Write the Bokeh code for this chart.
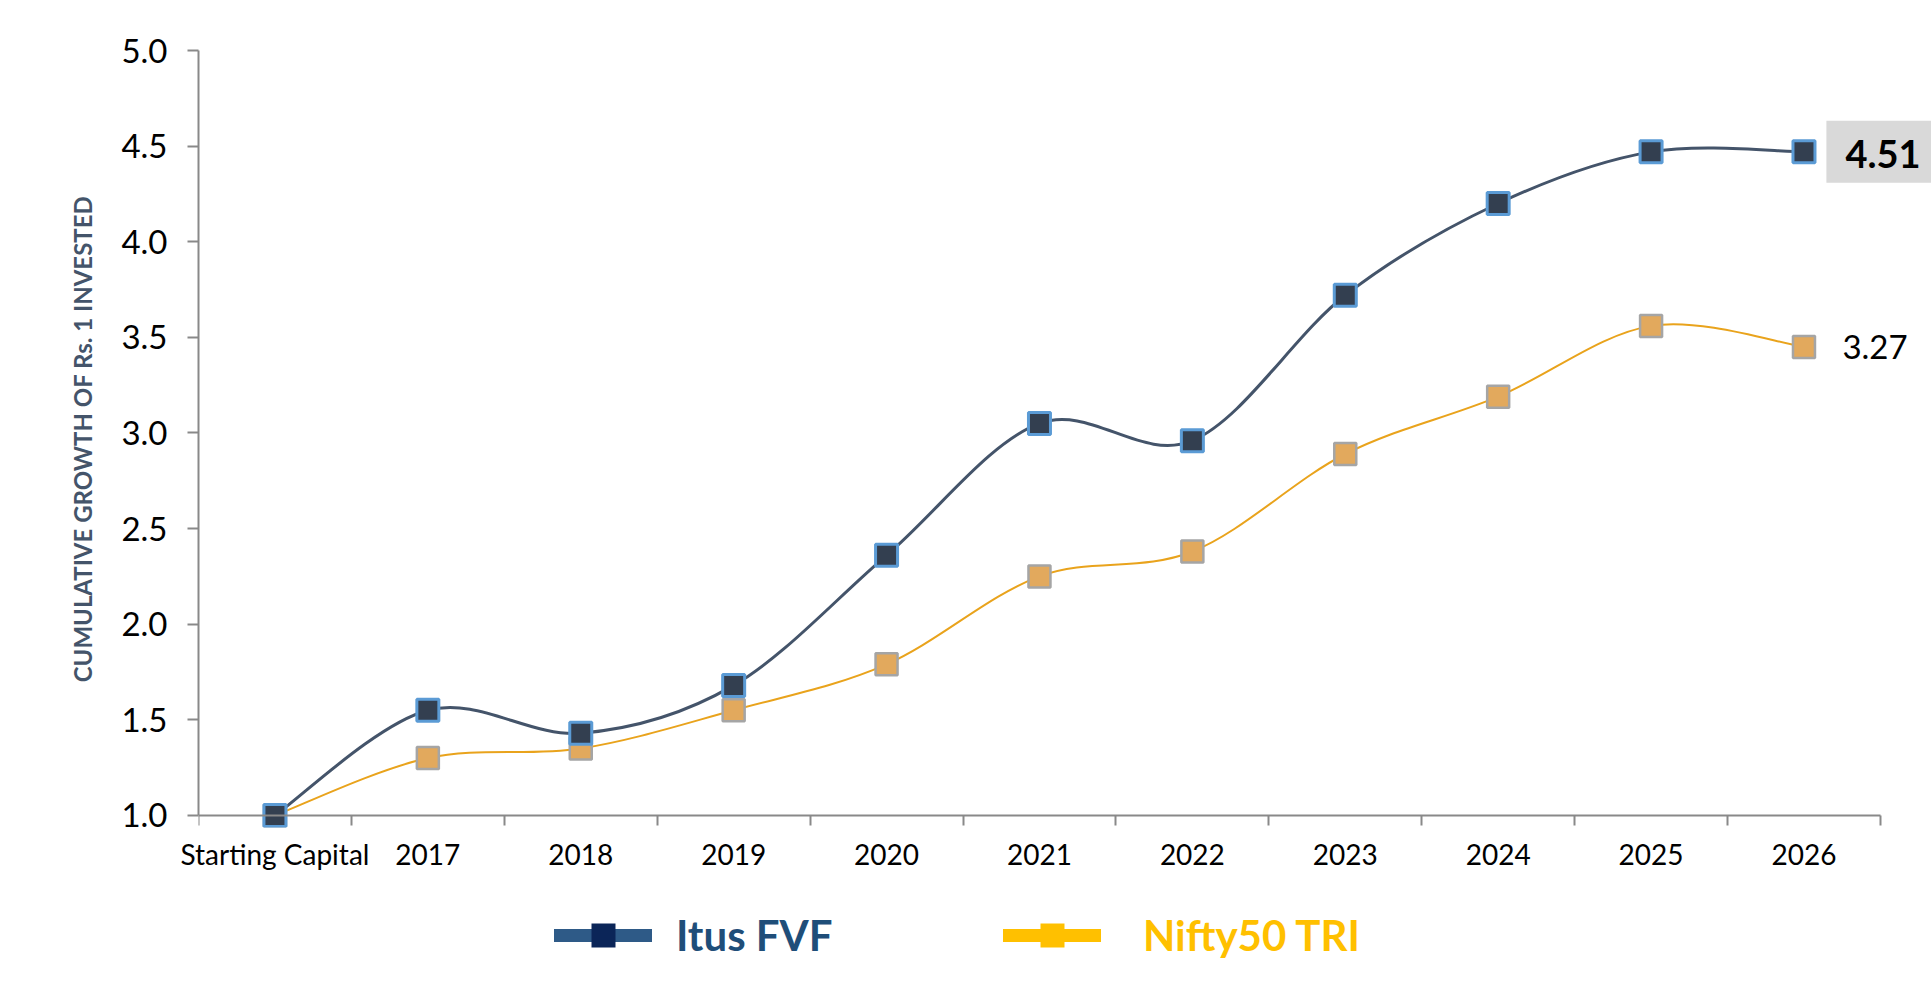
from bokeh.plotting import figure
from bokeh.layouts import column
from bokeh.models import (Range1d, FixedTicker, PrintfTickFormatter, Label, Legend,
                          LegendItem, CustomJSTickFormatter, LinearAxis)
from bokeh.embed import file_html
from bokeh.resources import INLINE

# ---------------- data ----------------
categories = ["Starting Capital", "2017", "2018", "2019", "2020", "2021",
              "2022", "2023", "2024", "2025", "2026"]
itus_fvf = [1.00, 1.55, 1.43, 1.68, 2.36, 3.05, 2.96, 3.72, 4.20, 4.47, 4.47]
nifty50_tri = [1.00, 1.30, 1.35, 1.55, 1.79, 2.25, 2.38, 2.89, 3.19, 3.56, 3.45]
series_names = ["Itus FVF", "Nifty50 TRI"]
end_labels = ["4.51", "3.27"]
y_ticks = [1.0, 1.5, 2.0, 2.5, 3.0, 3.5, 4.0, 4.5, 5.0]
y_title = "CUMULATIVE GROWTH OF Rs. 1 INVESTED"

FONT = "Lato"
AXIS_COLOR = "#898989"
NAN = float("nan")

n_cat = len(categories)
xs = [i + 0.5 for i in range(n_cat)]


def smooth_segments(x, y):
    """Bezier control points for a smoothed line through the data points."""
    n = len(x)
    x0, y0, x1, y1, cx0, cy0, cx1, cy1 = [], [], [], [], [], [], [], []
    for i in range(n - 1):
        ip = max(i - 1, 0)
        inn = min(i + 2, n - 1)
        x0.append(x[i]); y0.append(y[i])
        x1.append(x[i + 1]); y1.append(y[i + 1])
        cx0.append(x[i] + (x[i + 1] - x[ip]) / 6.0)
        cy0.append(y[i] + (y[i + 1] - y[ip]) / 6.0)
        cx1.append(x[i + 1] - (x[inn] - x[i]) / 6.0)
        cy1.append(y[i + 1] - (y[inn] - y[i]) / 6.0)
    return dict(x0=x0, y0=y0, x1=x1, y1=y1, cx0=cx0, cy0=cy0, cx1=cx1, cy1=cy1)


# ================= main chart =================
p = figure(width=1931, height=880, output_backend="svg", toolbar_location=None,
           x_range=Range1d(0, 11.334), y_range=Range1d(0.937, 5.0),
           min_border_left=198, min_border_right=0, min_border_top=50,
           min_border_bottom=53)
p.xgrid.visible = False
p.ygrid.visible = False
p.outline_line_color = None
p.background_fill_color = "white"
p.border_fill_color = "white"

# category labels (axis at the bottom of the frame, labels only)
xa = p.xaxis[0]
xa.ticker = FixedTicker(ticks=xs)
xa.formatter = CustomJSTickFormatter(args=dict(cats=categories),
                                     code="return cats[Math.floor(tick)]")
xa.axis_line_color = None
xa.major_tick_line_color = None
xa.minor_tick_line_color = None
xa.major_tick_out = 0
xa.major_tick_in = 0
xa.major_label_text_font = FONT
xa.major_label_text_font_size = "28px"
xa.major_label_text_color = "black"
xa.major_label_standoff = 9

# axis line at 1.0 with ticks on the category boundaries (no labels)
xline = LinearAxis(fixed_location=y_ticks[0], bounds=(0, n_cat),
                   ticker=FixedTicker(ticks=[], minor_ticks=list(range(n_cat + 1))),
                   axis_line_color=AXIS_COLOR, axis_line_width=2,
                   major_tick_out=0, major_tick_in=0,
                   minor_tick_out=10, minor_tick_in=0,
                   minor_tick_line_color=AXIS_COLOR, minor_tick_line_width=2)
p.add_layout(xline, "below")

ya = p.yaxis[0]
ya.ticker = FixedTicker(ticks=y_ticks)
ya.formatter = PrintfTickFormatter(format="%.1f")
ya.bounds = (y_ticks[0], y_ticks[-1])
ya.axis_line_color = AXIS_COLOR
ya.axis_line_width = 2
ya.major_tick_out = 11
ya.major_tick_in = 0
ya.major_tick_line_color = AXIS_COLOR
ya.major_tick_line_width = 2
ya.minor_tick_out = 0
ya.minor_tick_in = 0
ya.major_label_text_font = FONT
ya.major_label_text_font_size = "33px"
ya.major_label_text_color = "black"
ya.major_label_standoff = 20
ya.axis_label = y_title
ya.axis_label_text_font = FONT
ya.axis_label_text_font_style = "bold"
ya.axis_label_text_font_size = "24px"
ya.axis_label_text_color = "#44546a"
ya.axis_label_standoff = 21

# series
p.bezier(source=smooth_segments(xs, nifty50_tri), x0="x0", y0="y0", x1="x1", y1="y1",
         cx0="cx0", cy0="cy0", cx1="cx1", cy1="cy1",
         line_color="#e9a31c", line_width=2)
p.bezier(source=smooth_segments(xs, itus_fvf), x0="x0", y0="y0", x1="x1", y1="y1",
         cx0="cx0", cy0="cy0", cx1="cx1", cy1="cy1",
         line_color="#44546a", line_width=3)

p.scatter(xs, nifty50_tri, marker="square", size=22, fill_color="#e2a95d",
          line_color="#a5a5a5", line_width=2.5)
p.scatter(xs, itus_fvf, marker="square", size=22, fill_color="#333f50",
          line_color="#5b9bd5", line_width=3)

# end labels
p.add_layout(Label(x=xs[-1], y=itus_fvf[-1], text=end_labels[0], x_offset=77,
                   text_align="center", text_baseline="middle", text_font=FONT,
                   text_font_style="bold", text_font_size="38px", text_color="black",
                   background_fill_color="#d9d9d9", padding=(19, 15, 19, 15)))
p.add_layout(Label(x=xs[-1], y=nifty50_tri[-1], text=end_labels[1], x_offset=71,
                   text_align="center", text_baseline="middle", text_font=FONT,
                   text_font_size="33px", text_color="black"))

# ================= legend strip =================
lf = figure(width=1931, height=110, output_backend="svg", toolbar_location=None,
            x_range=Range1d(0, 1), y_range=Range1d(0, 1),
            x_axis_location=None, y_axis_location=None,
            min_border_left=0, min_border_right=0, min_border_top=0,
            min_border_bottom=0)
lf.xgrid.visible = False
lf.ygrid.visible = False
lf.outline_line_color = None

leg_line_1 = lf.line(x=[NAN], y=[NAN], line_color="#2e5a87", line_width=13,
                     line_cap="round")
leg_sq_1 = lf.scatter(x=[NAN], y=[NAN], marker="square", size=24,
                      fill_color="#0b2558", line_color=None)
leg_line_2 = lf.line(x=[NAN], y=[NAN], line_color="#ffc000", line_width=13,
                     line_cap="round")
leg_sq_2 = lf.scatter(x=[NAN], y=[NAN], marker="square", size=24,
                      fill_color="#ffc000", line_color=None)

# (the legend strip's frame is aligned with the chart's frame by the column layout)
for renderers, name, color, loc, standoff in [
        ([leg_line_1, leg_sq_1], series_names[0], "#1f4e79", (356, 25), 24),
        ([leg_line_2, leg_sq_2], series_names[1], "#ffc000", (805, 25), 42)]:
    lg = Legend(items=[LegendItem(label=name, renderers=renderers)], location=loc,
                glyph_width=98, glyph_height=60, label_standoff=standoff,
                label_text_font=FONT, label_text_font_style="bold",
                label_text_font_size="42px", label_text_color=color,
                padding=0, margin=0, border_line_color=None,
                background_fill_alpha=0)
    lf.add_layout(lg)

open("out.html", "w").write(file_html(column(p, lf, spacing=0), INLINE))
